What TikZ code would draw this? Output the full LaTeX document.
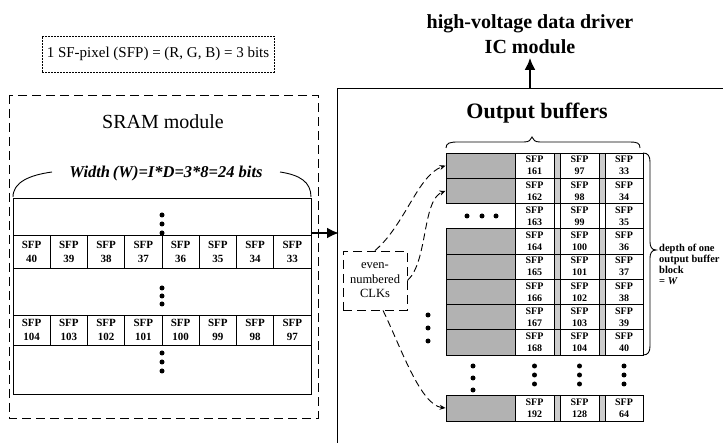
\documentclass[tikz,border=0pt]{standalone}
\usepackage{fontspec}
\setmainfont{Liberation Serif}
\usetikzlibrary{arrows.meta}
\begin{document}
\begin{tikzpicture}[x=1pt,y=-1pt,
  ln/.style={line width=0.9pt},
  sramcell/.style={draw, line width=0.9pt, minimum width=37.25pt, inner sep=0pt, align=center, font=\fontsize{11}{13.5}\selectfont\bfseries},
  bufcell/.style={draw, line width=0.9pt, minimum height=25.25pt, inner sep=0pt, align=center, font=\fontsize{10}{11.8}\selectfont\bfseries},
  shadeblk/.style={draw, line width=0.9pt, fill=black!30, minimum width=69pt, minimum height=25.25pt, inner sep=0pt},
  narrowcol/.style={draw, line width=0.9pt, minimum width=6pt, minimum height=25.25pt, inner sep=0pt},
  dashbox/.style={draw, dash pattern=on 9pt off 5pt, line width=0.9pt},
  clkarrow/.style={dash pattern=on 7pt off 4pt, line width=0.9pt, -{Stealth[length=6pt,width=5pt]}},
  bigarrow/.style={line width=2.6pt, -{Latex[length=12pt,width=11pt]}}
]
\useasboundingbox (0,0) rectangle (723,443);

% ---------- top-left legend ----------
\node[draw, dash pattern=on 2pt off 1pt, line width=0.6pt, minimum width=232pt, minimum height=36pt, inner sep=0pt,
      font=\fontsize{15}{17}\selectfont] (legend) at (158,54) {1 SF-pixel (SFP) = (R, G, B) = 3 bits};

% ---------- title ----------
\node[font=\fontsize{20}{24}\selectfont\bfseries, anchor=base] (title1) at (530,29) {high-voltage data driver};
\node[font=\fontsize{20}{24}\selectfont\bfseries, anchor=base] (title2) at (530,54) {IC module};

% ---------- SRAM module ----------
\draw[dashbox] (9,95) rectangle (318,418);
\node[font=\fontsize{20}{24}\selectfont, anchor=base] (sramtitle) at (163,129) {SRAM module};
\node[font=\fontsize{16.5}{18}\selectfont\bfseries\itshape, anchor=base] (widthtxt) at (166,178) {Width\,(W)=I*D=3*8=24 bits};
\draw[ln] (13,197) .. controls (13,182) and (30,175) .. (52,172);
\draw[ln] (280,172) .. controls (300,175) and (311,182) .. (311,197);
\node[draw, line width=0.9pt, minimum width=298pt, minimum height=196pt, inner sep=0pt] (sraminner) at (162,296) {};

\foreach \i in {0,...,7} {
  \pgfmathtruncatemacro\na{40-\i}
  \pgfmathtruncatemacro\nb{104-\i}
  \node[sramcell, minimum height=33pt] (ra\i) at ({13+37.25*(\i+0.5)},252) {SFP\\\na};
  \node[sramcell, minimum height=30pt] (rb\i) at ({13+37.25*(\i+0.5)},330) {SFP\\\nb};
}
\foreach \y in {215,224,233, 288,296,304, 353,362,371} \fill (162,\y) circle (2.5pt);

% ---------- output buffer box ----------
\draw[ln] (337,443) -- (337,88) -- (723,88);
\coordinate (boxtop) at (530,88);
\draw[bigarrow] (boxtop) -- (title2.south);
\coordinate (sramout) at (311,233);
\coordinate (bufin) at (339,233);
\draw[bigarrow] (sramout) -- (bufin);

\node[font=\fontsize{22}{24}\selectfont\bfseries, anchor=base] (obtitle) at (537,119) {Output buffers};
% top brace
\draw[ln] (446,148) .. controls (446,143) and (450,142) .. (458,142) -- (524,142)
  .. controls (529,142) and (531,140) .. (532,137) .. controls (533,140) and (535,142) .. (540,142)
  -- (630,142) .. controls (637,142) and (640,143) .. (640,148);

% rows
\foreach \k in {0,...,7} {
  \pgfmathsetmacro\yy{153+25.25*(\k+0.5)}
  \pgfmathtruncatemacro\na{161+\k}
  \pgfmathtruncatemacro\nb{97+\k}
  \pgfmathtruncatemacro\nc{33+\k}
  \ifnum\k=2
    \node[narrowcol] (na\k) at (557,\yy) {};
    \node[narrowcol] (nb\k) at (602,\yy) {};
  \else
    \node[shadeblk] (blk\k) at (480.5,\yy) {};
    \node[narrowcol, fill=black!20] (na\k) at (557,\yy) {};
    \node[narrowcol, fill=black!20] (nb\k) at (602,\yy) {};
  \fi
  \node[bufcell, minimum width=39pt] (a\k) at (534.5,\yy) {SFP\\\na};
  \node[bufcell, minimum width=39pt] (b\k) at (579.5,\yy) {SFP\\\nb};
  \node[bufcell, minimum width=38pt] (c\k) at (624,\yy) {SFP\\\nc};
}
\foreach \x in {467,482,496} \fill (\x,216) circle (2.5pt);

% bottom row
\node[shadeblk, minimum height=26pt] (blkB) at (480.5,408) {};
\node[narrowcol, fill=black!20, minimum height=26pt] (naB) at (557,408) {};
\node[narrowcol, fill=black!20, minimum height=26pt] (nbB) at (602,408) {};
\node[bufcell, minimum width=39pt, minimum height=26pt] (aB) at (534.5,408) {SFP\\192};
\node[bufcell, minimum width=39pt, minimum height=26pt] (bB) at (579.5,408) {SFP\\128};
\node[bufcell, minimum width=38pt, minimum height=26pt] (cB) at (624,408) {SFP\\64};

% vertical dots
\foreach \y in {366,378,390} \fill (473,\y) circle (2.5pt);
\foreach \x in {534.5,579.5,624} \foreach \y in {366,375,384} \fill (\x,\y) circle (2.5pt);
\foreach \y in {315,328,341} \fill (428,\y) circle (2.5pt);

% right brace
\draw[ln] (643,153) .. controls (648,153) and (650,156) .. (650,162) -- (650,242)
  .. controls (650,247) and (652,250) .. (656,250) .. controls (652,250) and (650,253) .. (650,258)
  -- (650,346) .. controls (650,352) and (648,355) .. (643,355);
\node[anchor=north west, align=left, inner sep=0pt, font=\fontsize{10.5}{11}\selectfont\bfseries] (depth) at (659,244)
  {depth of one\\output buffer\\block\\= \textit{W}};

% even-numbered CLKs
\node[dashbox, minimum width=64pt, minimum height=59pt, inner sep=0pt, align=center,
      font=\fontsize{12.5}{14.5}\selectfont] (clk) at (375,280.5) {even-\\numbered\\CLKs};
\draw[clkarrow] (clk.north) .. controls (405,225) and (418,175) .. (blk0.west);
\draw[clkarrow] (clk.east) .. controls (428,262) and (422,200) .. (blk1.west);
\draw[clkarrow] ([xshift=8pt]clk.south) .. controls (400,345) and (420,405) .. (blkB.west);
\end{tikzpicture}
\end{document}
